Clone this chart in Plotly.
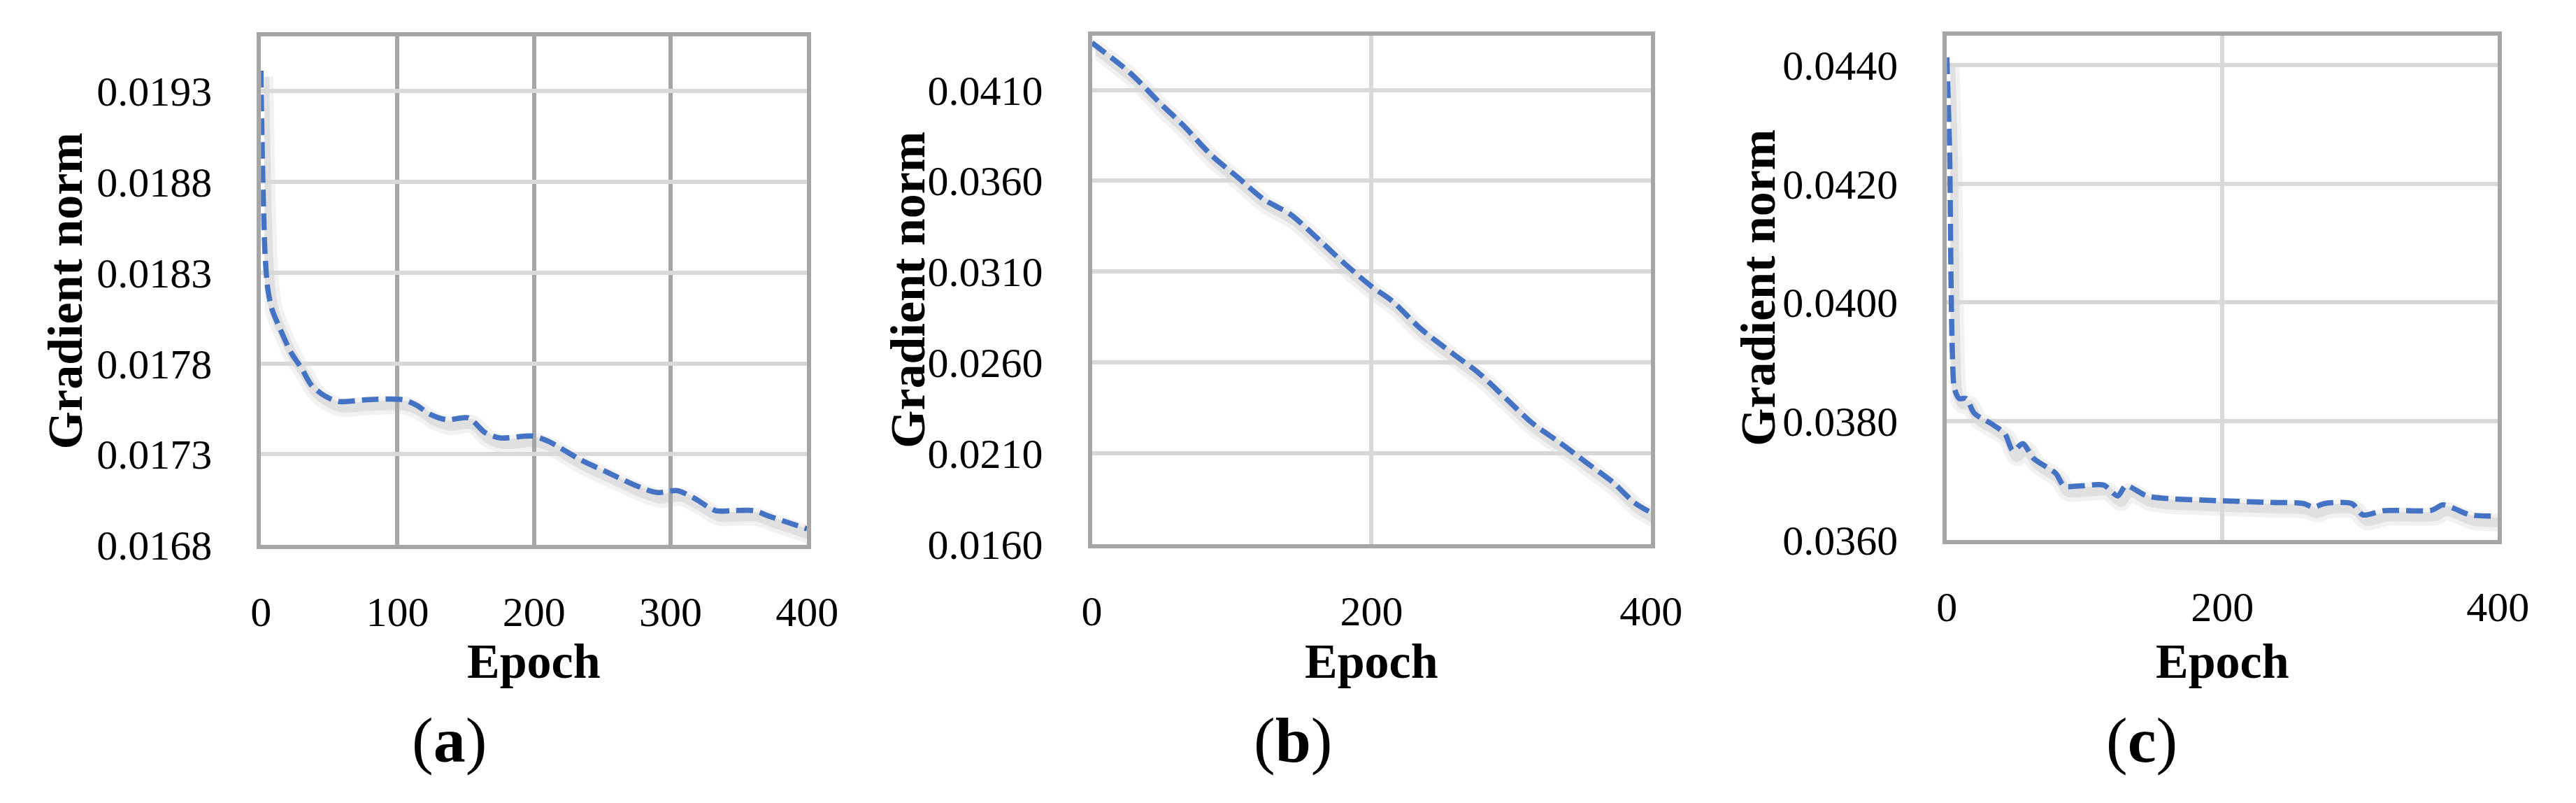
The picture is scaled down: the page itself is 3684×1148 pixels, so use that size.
import plotly.graph_objects as go

W, H = 3684, 1148

# ---- data ----
epoch_a = [0, 1, 2, 3, 5, 8, 14, 22, 30, 37, 47, 57, 77, 104, 114, 124, 136, 152, 164,
           175, 199, 211, 234, 254, 274, 290, 305, 317, 333, 345, 361, 372, 388, 400]
norm_a = [0.01941, 0.01894, 0.01862, 0.01840, 0.01821, 0.01810, 0.01799, 0.01786,
          0.01777, 0.01768, 0.01762, 0.01759, 0.01760, 0.01760, 0.01757, 0.01752,
          0.01749, 0.01750, 0.01742, 0.01739, 0.01740, 0.01737, 0.01727, 0.01720,
          0.01713, 0.01709, 0.01710, 0.01706, 0.01699, 0.01699, 0.01699, 0.01696,
          0.01692, 0.01689]

epoch_b = [0, 27, 50, 65, 85, 104, 123, 142, 162, 181, 200, 215, 235, 258, 277, 296,
           315, 335, 354, 373, 388, 400]
norm_b = [0.04360, 0.04196, 0.04018, 0.03908, 0.03744, 0.03621, 0.03497, 0.03415,
          0.03278, 0.03142, 0.03018, 0.02936, 0.02786, 0.02649, 0.02539, 0.02402,
          0.02265, 0.02156, 0.02046, 0.01937, 0.01827, 0.01772]

epoch_c = [0, 2, 3, 4, 5.5, 9, 14, 20, 32, 42, 48, 55, 63, 79, 85, 98, 114, 124, 130,
           145, 157, 196, 235, 259, 266, 274, 294, 302, 317, 352, 360, 368, 380, 400]
norm_c = [0.04413, 0.04250, 0.04039, 0.03913, 0.03855, 0.03838, 0.03838, 0.03813,
          0.03796, 0.03779, 0.03750, 0.03762, 0.03737, 0.03712, 0.03691, 0.03691,
          0.03692, 0.03674, 0.03691, 0.03674, 0.03670, 0.03666, 0.03663, 0.03661,
          0.03655, 0.03661, 0.03661, 0.03642, 0.03649, 0.03650, 0.03659, 0.03653,
          0.03642, 0.03640]

yticks_a = [0.0168, 0.0173, 0.0178, 0.0183, 0.0188, 0.0193]
yticks_b = [0.0160, 0.0210, 0.0260, 0.0310, 0.0360, 0.0410]
yticks_c = [0.0360, 0.0380, 0.0400, 0.0420, 0.0440]
xticks_a = [0, 100, 200, 300, 400]
xticks_bc = [0, 200, 400]
panel_labels = ["a", "b", "c"]

# ---- layout geometry (pixels) ----
panels = [
    dict(x=epoch_a, y=norm_a, yt=yticks_a, xt=xticks_a, yr=[0.0168, 0.0196],
         px=(356, 1150), py=(45, 795), vgrid="#a6a6a6", title_x=72, lab_x=630),
    dict(x=epoch_b, y=norm_b, yt=yticks_b, xt=xticks_bc, yr=[0.0160, 0.0440],
         px=(1564, 2377), py=(44, 793), vgrid="#d9d9d9", title_x=1296, lab_x=1856),
    dict(x=epoch_c, y=norm_c, yt=yticks_c, xt=xticks_bc, yr=[0.0360, 0.0445],
         px=(2807, 3608), py=(44, 787), vgrid="#d9d9d9", title_x=2532, lab_x=3090),
]

SERIF = "Liberation Serif"
fig = go.Figure()
layout = {}
annotations = []
shadow_dx, shadow_dy = 5, 9

# shadow subplots first (axes 1-3) so they sit underneath
for i, p in enumerate(panels):
    n = i + 1
    xd = [(p["px"][0] + shadow_dx) / W, (p["px"][1] + shadow_dx) / W]
    yd = [1 - (p["py"][1] + shadow_dy) / H, 1 - (p["py"][0] + shadow_dy) / H]
    sfx = "" if n == 1 else str(n)
    layout["xaxis" + sfx] = dict(domain=xd, range=[0, 400], visible=False, anchor="y" + sfx)
    layout["yaxis" + sfx] = dict(domain=yd, range=p["yr"], visible=False, anchor="x" + sfx)
    for w, a in [(26, 0.05), (14, 0.07)]:
        fig.add_trace(go.Scatter(x=p["x"], y=p["y"], mode="lines", xaxis="x" + sfx, yaxis="y" + sfx,
                                 line=dict(color=f"rgba(0,0,0,{a})", width=w, shape="spline", smoothing=0.8),
                                 hoverinfo="skip", showlegend=False))

# main subplots (axes 4-6)
for i, p in enumerate(panels):
    n = i + 4
    xd = [p["px"][0] / W, p["px"][1] / W]
    yd = [1 - p["py"][1] / H, 1 - p["py"][0] / H]
    layout[f"xaxis{n}"] = dict(
        domain=xd, range=[0, 400], anchor=f"y{n}", tickvals=p["xt"],
        showgrid=True, gridcolor=p["vgrid"], gridwidth=6, zeroline=False,
        showline=True, linecolor="#a6a6a6", linewidth=6, mirror=True,
        ticks="outside", ticklen=38, tickcolor="rgba(0,0,0,0)",
        tickfont=dict(family=SERIF, size=60, color="black"))
    layout[f"yaxis{n}"] = dict(
        domain=yd, range=p["yr"], anchor=f"x{n}", tickvals=p["yt"],
        ticktext=[f"{v:.4f}" for v in p["yt"]],
        showgrid=True, gridcolor="#d9d9d9", gridwidth=6, zeroline=False,
        showline=True, linecolor="#a6a6a6", linewidth=6, mirror=True,
        ticks="outside", ticklen=52, tickcolor="rgba(0,0,0,0)",
        tickfont=dict(family=SERIF, size=60, color="black"))
    fig.add_trace(go.Scatter(x=p["x"], y=p["y"], mode="lines", xaxis=f"x{n}", yaxis=f"y{n}",
                             line=dict(color="#4472c4", width=7.5, dash="24px,10px",
                                       shape="spline", smoothing=0.8),
                             showlegend=False))
    ymid = 1 - (p["py"][0] + p["py"][1]) / 2 / H
    annotations.append(dict(text="<b>Gradient norm</b>", textangle=-90, xref="paper", yref="paper",
                            x=p["title_x"] / W, y=ymid, xanchor="center", yanchor="middle",
                            showarrow=False, font=dict(family=SERIF, size=70, color="black")))
    annotations.append(dict(text="<b>Epoch</b>", xref="paper", yref="paper",
                            x=(p["px"][0] + p["px"][1]) / 2 / W, y=1 - 966 / H,
                            xanchor="center", yanchor="middle",
                            showarrow=False, font=dict(family=SERIF, size=70, color="black")))
    annotations.append(dict(text=f"(<b>{panel_labels[i]}</b>)", xref="paper", yref="paper",
                            x=p["lab_x"] / W, y=1 - 1082 / H, xanchor="center", yanchor="middle",
                            showarrow=False, font=dict(family=SERIF, size=92, color="black")))

fig.update_layout(**layout)
fig.update_layout(width=W, height=H, margin=dict(l=0, r=0, t=0, b=0),
                  paper_bgcolor="white", plot_bgcolor="rgba(0,0,0,0)",
                  annotations=annotations, showlegend=False)

fig.write_html("out.html")
